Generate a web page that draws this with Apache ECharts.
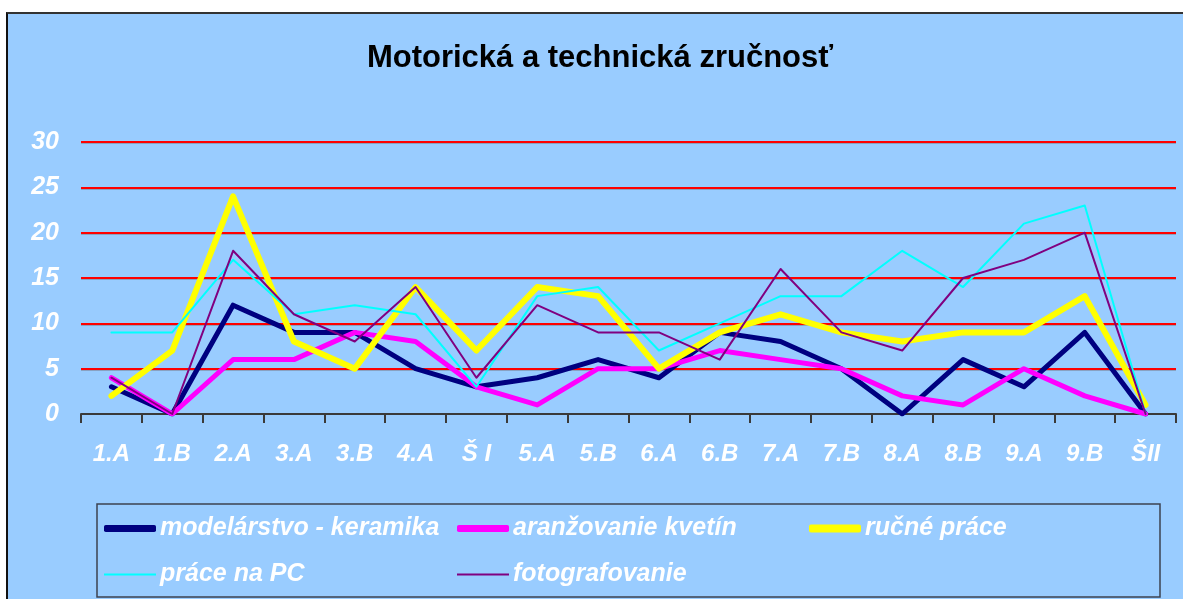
<!DOCTYPE html>
<html>
<head>
<meta charset="utf-8">
<title>Motorická a technická zručnosť</title>
<script src="https://cdn.jsdelivr.net/npm/echarts@6/dist/echarts.min.js"></script>
<style>
  html, body { margin: 0; padding: 0; background: #fff; overflow: hidden; }
  /* ramik grafu ako v Exceli */
  #frame {
    position: absolute; left: 6px; top: 12px;
    width: 1200px; height: 600px;
    background: #99ccff;
    border-left: 2px solid #111;
    border-top: 2px solid #333;
  }
  #chart { position: absolute; left: 0; top: 0; width: 1183px; height: 599px; }
</style>
</head>
<body>
<div id="frame"></div>
<div id="chart"></div>
<script>
// triedy
const categories = ["1.A", "1.B", "2.A", "3.A", "3.B", "4.A", "Š I", "5.A", "5.B",
  "6.A", "6.B", "7.A", "7.B", "8.A", "8.B", "9.A", "9.B", "ŠII"];

// pocty ziakov podla krúžku
const modelarstvo = [3, 0, 12, 9, 9, 5, 3, 4, 6, 4, 9, 8, 5, 0, 6, 3, 9, 0];
const aranzovanie = [4, 0, 6, 6, 9, 8, 3, 1, 5, 5, 7, 6, 5, 2, 1, 5, 2, 0];
const rucnePrace = [2, 7, 24, 8, 5, 14, 7, 14, 13, 5, 9, 11, 9, 8, 9, 9, 13, 1];
const pracePC = [9, 9, 17, 11, 12, 11, 3, 13, 14, 7, 10, 13, 13, 18, 14, 21, 23, 0];
const fotografovanie = [4, 0, 18, 11, 8, 14, 4, 12, 9, 9, 6, 16, 9, 7, 15, 17, 20, 0];

const yTicks = [0, 5, 10, 15, 20, 25, 30];

const FONT = "'Liberation Sans', Arial, sans-serif";

const myChart = echarts.init(document.getElementById("chart"));

function lineSeries(name, data, color, width) {
  return {
    name: name,
    type: "line",
    data: data,
    color: color,
    showSymbol: false,
    symbol: "none",
    lineStyle: { width: width, color: color, cap: "round", join: "round" },
    emphasis: { disabled: true }
  };
}

const legendText = {
  color: "#fff",
  fontFamily: FONT,
  fontStyle: "italic",
  fontWeight: "bold",
  fontSize: 25
};

function legendAt(name, left, top, h) {
  return {
    data: [name],
    left: left,
    top: top,
    padding: 0,
    icon: h > 3 ? "roundRect" : "rect",
    itemWidth: 52,
    itemHeight: h,
    itemGap: 0,
    selectedMode: false,
    textStyle: Object.assign({ padding: [0, 0, 0, -1] }, legendText)
  };
}

myChart.setOption({
  animation: false,
  title: {
    text: "Motorická a technická zručnosť",
    left: 600,
    top: 43,
    textAlign: "center",
    padding: 0,
    textStyle: { fontFamily: FONT, fontWeight: "bold", fontSize: 31, color: "#000" }
  },
  grid: { left: 81, right: 7, top: 142, bottom: 185, containLabel: false },
  legend: [
    legendAt("modelárstvo - keramika", 104, 516, 7),
    legendAt("aranžovanie kvetín", 457, 516, 7),
    legendAt("ručné práce", 809, 516, 8),
    legendAt("práce na PC", 104, 562, 2),
    legendAt("fotografovanie", 457, 562, 2)
  ],
  xAxis: {
    type: "category",
    data: categories,
    boundaryGap: true,
    axisLine: { show: true, lineStyle: { color: "#3a3a3a", width: 2 } },
    axisTick: { show: true, length: 9, lineStyle: { color: "#3a3a3a", width: 2 } },
    axisLabel: {
      interval: 0,
      margin: 28,
      color: "#fff",
      fontFamily: FONT,
      fontStyle: "italic",
      fontWeight: "bold",
      fontSize: 24
    },
    splitLine: { show: false }
  },
  yAxis: {
    type: "value",
    min: yTicks[0],
    max: yTicks[yTicks.length - 1],
    interval: 5,
    axisLine: { show: false },
    axisTick: { show: false },
    axisLabel: {
      margin: 22,
      color: "#fff",
      fontFamily: FONT,
      fontStyle: "italic",
      fontWeight: "bold",
      fontSize: 25
    },
    splitLine: {
      show: true,
      lineStyle: {
        color: ["rgba(0,0,0,0)", "#ff0000", "#ff0000", "#ff0000", "#ff0000", "#ff0000", "#ff0000"],
        width: 2,
        shadowColor: "rgba(110,80,80,0.35)",
        shadowOffsetY: 1
      }
    }
  },
  graphic: [
    {
      type: "rect",
      shape: { x: 97, y: 504, width: 1063, height: 93 },
      style: { fill: "none", stroke: "#3c4150", lineWidth: 1.5 },
      silent: true
    }
  ],
  series: [
    lineSeries("modelárstvo - keramika", modelarstvo, "#000080", 5),
    lineSeries("aranžovanie kvetín", aranzovanie, "#ff00ff", 5),
    lineSeries("ručné práce", rucnePrace, "#ffff00", 6),
    lineSeries("práce na PC", pracePC, "#00ffff", 2),
    lineSeries("fotografovanie", fotografovanie, "#800080", 2)
  ]
});
</script>
</body>
</html>
